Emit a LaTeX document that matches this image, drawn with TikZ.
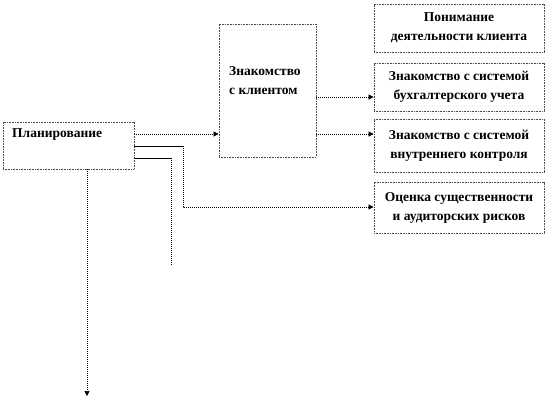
\documentclass[tikz,border=0pt]{standalone}
\usepackage{fontspec}
\setmainfont{Liberation Serif}
\usetikzlibrary{arrows.meta, positioning}

\begin{document}
\begin{tikzpicture}[x=1pt, y=-1pt, >={Triangle[length=5pt, width=5pt]},
    font=\fontsize{13.5}{19}\selectfont\bfseries,
    box/.style={rectangle, draw=black!70, dash pattern=on 1pt off 0.6pt, line width=0.8pt, inner sep=0pt, align=center},
    conn/.style={draw=black, dash pattern=on 1pt off 1pt, line width=0.7pt},
    lead/.style={draw=black, line width=0.8pt}
]
\useasboundingbox (0,0) rectangle (558,400);

% === Левая часть: планирование ===
\node[box, minimum width=131pt, minimum height=47pt] (plan) at (68.5,145.5) {};
\node[anchor=west, inner sep=0pt] (plantxt) at (12,135) {Планирование};

% === Знакомство с клиентом ===
\node[box, minimum width=97pt, minimum height=133pt] (client) at (267.5,90.5) {};
\node[anchor=west, inner sep=0pt, align=left] (clienttxt) at (229,81) {Знакомство\\с клиентом};

% === Правая колонка ===
\node[box, minimum width=170pt, minimum height=48pt] (biz) at (459,28) {Понимание\\деятельности клиента};
\node[box, minimum width=170pt, minimum height=48pt] (acc) at (459,87) {Знакомство с системой\\бухгалтерского учета};
\node[box, minimum width=170pt, minimum height=53pt] (ctrl) at (459,145.5) {Знакомство с системой\\внутреннего контроля};
\node[box, minimum width=170pt, minimum height=51pt] (risk) at (459,207.5) {Оценка существенности\\и аудиторских рисков};

% точки изломов
\coordinate (b1) at (183,146);
\coordinate (b2) at (171,158);
\coordinate (e2) at (171,266);
\coordinate (e3) at (87,396);

% === Связи ===
\draw[conn, ->] (plan.east |- 0,134) -- (client.west |- 0,134);
\draw[conn, ->] (client.east |- 0,97) -- (acc.west |- 0,97);
\draw[conn, ->] (client.east |- 0,134) -- (ctrl.west |- 0,134);

\draw[lead] (plan.east |- b1) -- (b1);
\draw[conn, ->] (b1) |- (risk.west |- 0,207);

\draw[lead] (plan.east |- b2) -- (b2);
\draw[conn] (b2) -- (e2);

\draw[conn, ->] (plan.south -| e3) -- (e3);

\end{tikzpicture}
\end{document}
